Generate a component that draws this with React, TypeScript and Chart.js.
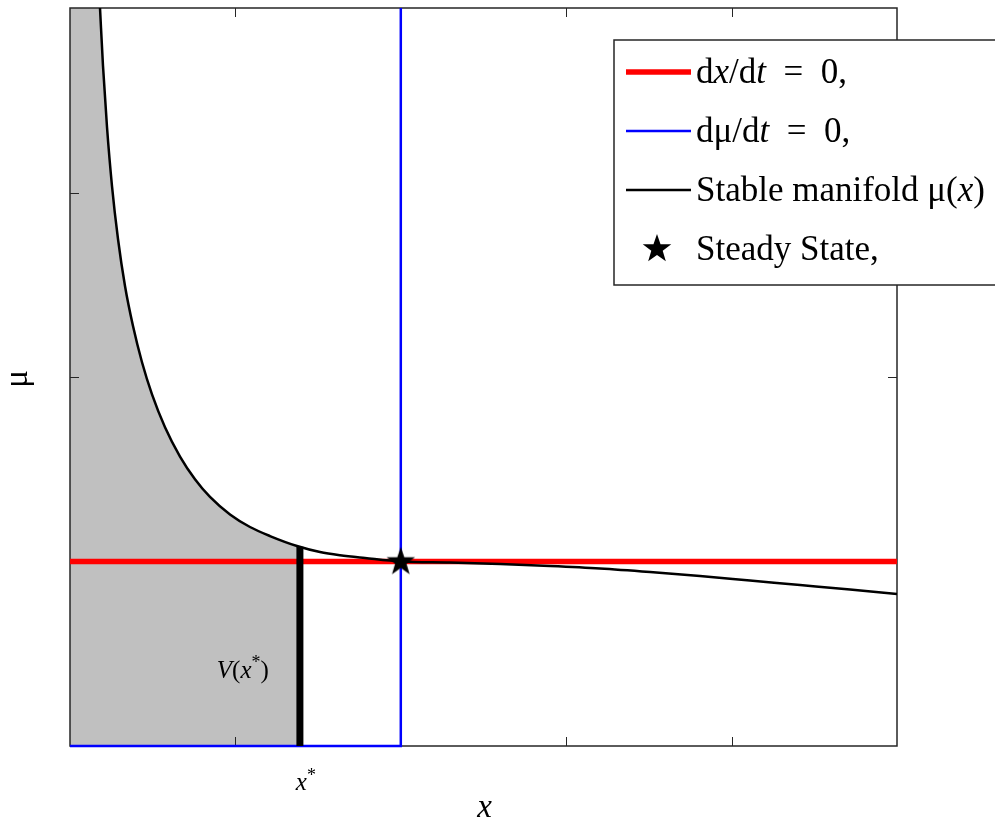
import { useEffect, useRef } from 'react';
import { Chart, registerables } from 'chart.js';

Chart.register(...registerables);

// ---- data ----
const X_MIN = 0;
const X_MAX = 5;
const MU_MIN = 0;
const MU_MAX = 4;
const xTicks = [1, 2, 3, 4];
const muTicks = [1, 2, 3];

// stable manifold mu(x)
const manifoldX = [0.1814, 0.1995, 0.2237, 0.2539, 0.2902, 0.3325, 0.3809, 0.4353, 0.4958, 0.5744, 0.6651, 0.7557, 0.8464, 0.9674, 1.0883, 1.2092, 1.3724, 1.5115, 1.6324, 1.7836, 2.0, 2.297, 2.6, 2.902, 3.204, 3.507, 3.809, 4.111, 4.414, 4.716, 5.0];
const manifoldMu = [4.0, 3.686, 3.355, 3.035, 2.748, 2.493, 2.276, 2.08, 1.906, 1.728, 1.569, 1.446, 1.35, 1.255, 1.187, 1.138, 1.084, 1.0515, 1.0341, 1.019, 1.0, 0.9946, 0.9864, 0.9756, 0.9621, 0.9431, 0.9214, 0.897, 0.8726, 0.8482, 0.8238];

// dx/dt = 0
const dxdtX = [0, 5];
const dxdtMu = [1, 1];

// dmu/dt = 0
const dmudtX = [0, 2, 2];
const dmudtMu = [0, 0, 4];

// steady state
const steadyX = [2];
const steadyMu = [1];

// x* and V(x*)
const xStar = 1.39;
const vStarMu = 1.08;
const vLabelX = 1.045;
const vLabelMu = 0.37;

type Part = { t: string; i?: boolean; sup?: boolean };
const legendLabels: Part[][] = [
  [{ t: 'd' }, { t: 'x', i: true }, { t: '/d' }, { t: 't', i: true }, { t: '\u2002=\u20020,' }],
  [{ t: 'dμ/d' }, { t: 't', i: true }, { t: '\u2002=\u20020,' }],
  [{ t: 'Stable manifold μ(' }, { t: 'x', i: true }, { t: ')' }],
  [{ t: 'Steady State,' }],
];
const xTitle: Part[] = [{ t: 'x', i: true }];
const yTitle = 'μ';
const xStarLabel: Part[] = [{ t: 'x', i: true }, { t: '*', sup: true }];
const vLabel: Part[] = [{ t: 'V', i: true }, { t: '(' }, { t: 'x', i: true }, { t: '*', sup: true }, { t: ')' }];

const FONT = '"Liberation Serif", "Times New Roman", serif';
const RED = '#ff0000';
const BLUE = '#0000ff';
const GRAY = '#c0c0c0';

const zip = (xs: number[], ys: number[]) => xs.map((x, k) => ({ x, y: ys[k] }));

function fontFor(p: Part, size: number) {
  return `${p.i ? 'italic ' : ''}${p.sup ? Math.round(size * 0.7) : size}px ${FONT}`;
}

function drawRich(ctx: CanvasRenderingContext2D, parts: Part[], x: number, y: number, size: number, align: 'left' | 'center' = 'left') {
  ctx.save();
  ctx.textAlign = 'left';
  ctx.textBaseline = 'alphabetic';
  let w = 0;
  for (const p of parts) {
    ctx.font = fontFor(p, size);
    w += ctx.measureText(p.t).width;
  }
  let cx = align === 'center' ? x - w / 2 : x;
  for (const p of parts) {
    ctx.font = fontFor(p, size);
    ctx.fillText(p.t, cx, p.sup ? y - size * 0.38 : y);
    cx += ctx.measureText(p.t).width;
  }
  ctx.restore();
}

function starPath(ctx: CanvasRenderingContext2D, cx: number, cy: number, R: number, r: number) {
  ctx.beginPath();
  for (let k = 0; k < 10; k++) {
    const ang = -Math.PI / 2 + (k * Math.PI) / 5;
    const rad = k % 2 === 0 ? R : r;
    const px = cx + rad * Math.cos(ang);
    const py = cy + rad * Math.sin(ang);
    if (k === 0) ctx.moveTo(px, py);
    else ctx.lineTo(px, py);
  }
  ctx.closePath();
}

const decorPlugin = {
  id: 'decor',
  beforeDatasetsDraw(chart: any) {
    const { ctx, chartArea: a, scales } = chart;
    const x = scales.x;
    const y = scales.y;
    ctx.save();
    ctx.strokeStyle = '#262626';
    ctx.lineWidth = 1.5;
    ctx.strokeRect(a.left, a.top, a.right - a.left, a.bottom - a.top);
    ctx.lineWidth = 1;
    ctx.beginPath();
    for (const v of xTicks) {
      const px = Math.round(x.getPixelForValue(v)) + 0.5;
      ctx.moveTo(px, a.bottom);
      ctx.lineTo(px, a.bottom - 9);
      ctx.moveTo(px, a.top);
      ctx.lineTo(px, a.top + 9);
    }
    for (const v of muTicks) {
      const py = Math.round(y.getPixelForValue(v)) + 0.5;
      ctx.moveTo(a.left, py);
      ctx.lineTo(a.left + 9, py);
      ctx.moveTo(a.right, py);
      ctx.lineTo(a.right - 9, py);
    }
    ctx.stroke();
    ctx.restore();
  },
  afterDraw(chart: any) {
    const { ctx, chartArea: a, scales } = chart;
    const x = scales.x;
    const y = scales.y;
    ctx.save();
    ctx.fillStyle = '#000';

    // V(x*) label inside plot
    drawRich(ctx, vLabel, x.getPixelForValue(vLabelX), y.getPixelForValue(vLabelMu), 25, 'center');
    // x* tick label
    drawRich(ctx, xStarLabel, x.getPixelForValue(xStar) + 6, a.bottom + 44, 25, 'center');
    // x axis title
    drawRich(ctx, xTitle, (a.left + a.right) / 2 + 1, a.bottom + 71, 33, 'center');
    // y axis title
    ctx.save();
    ctx.translate(27, (a.top + a.bottom) / 2 + 2);
    ctx.rotate(-Math.PI / 2);
    ctx.font = `33px ${FONT}`;
    ctx.textAlign = 'center';
    ctx.textBaseline = 'alphabetic';
    ctx.fillText(yTitle, 0, 0);
    ctx.restore();

    // legend box
    const L = 614, T = 40, B = 285;
    ctx.fillStyle = '#fff';
    ctx.fillRect(L, T, 1000 - L, B - T);
    ctx.strokeStyle = '#262626';
    ctx.lineWidth = 1.5;
    ctx.strokeRect(L, T, 1000 - L, B - T);

    const rowY = [72, 131, 190, 249];
    const styles = [
      { c: RED, w: 5.5 },
      { c: BLUE, w: 2.5 },
      { c: '#000', w: 2.5 },
    ];
    styles.forEach((s, k) => {
      ctx.strokeStyle = s.c;
      ctx.lineWidth = s.w;
      ctx.beginPath();
      ctx.moveTo(626, rowY[k]);
      ctx.lineTo(691, rowY[k]);
      ctx.stroke();
    });
    ctx.fillStyle = '#000';
    starPath(ctx, 657, rowY[3], 15, 6);
    ctx.fill();
    legendLabels.forEach((parts, k) => {
      drawRich(ctx, parts, 696, rowY[k] + 11, 35);
    });
    ctx.restore();
  },
};

function makeStarCanvas() {
  const c = document.createElement('canvas');
  c.width = 32;
  c.height = 32;
  const g = c.getContext('2d')!;
  g.fillStyle = '#000';
  starPath(g, 16, 16.5, 15, 6);
  g.fill();
  return c;
}

export default function App() {
  const ref = useRef<HTMLCanvasElement>(null);

  useEffect(() => {
    if (!ref.current) return;
    const fillPts = [{ x: X_MIN, y: MU_MAX }]
      .concat(zip(manifoldX, manifoldMu).filter((p) => p.x < xStar))
      .concat([{ x: xStar, y: vStarMu }]);

    const chart = new Chart(ref.current, {
      type: 'line',
      data: {
        datasets: [
          {
            label: 'Steady State',
            type: 'scatter',
            data: zip(steadyX, steadyMu),
            showLine: false,
            pointStyle: makeStarCanvas() as any,
            pointRadius: 15,
            order: 0,
            clip: false as any,
          },
          {
            label: 'V(x*)',
            data: [{ x: xStar, y: MU_MIN }, { x: xStar, y: vStarMu }],
            borderColor: '#000',
            borderWidth: 7,
            pointRadius: 0,
            fill: false,
            order: 1,
            clip: false as any,
          },
          {
            label: 'dmu/dt = 0',
            data: zip(dmudtX, dmudtMu),
            borderColor: BLUE,
            borderWidth: 2.5,
            pointRadius: 0,
            fill: false,
            order: 2,
            clip: false as any,
          },
          {
            label: 'Stable manifold',
            data: zip(manifoldX, manifoldMu),
            borderColor: '#000',
            borderWidth: 2.5,
            pointRadius: 0,
            fill: false,
            cubicInterpolationMode: 'monotone',
            order: 3,
          },
          {
            label: 'dx/dt = 0',
            data: zip(dxdtX, dxdtMu),
            borderColor: RED,
            borderWidth: 5.5,
            pointRadius: 0,
            fill: false,
            order: 4,
          },
          {
            label: 'area',
            data: fillPts,
            borderWidth: 0,
            borderColor: 'rgba(0,0,0,0)',
            backgroundColor: GRAY,
            pointRadius: 0,
            fill: 'origin',
            tension: 0,
            order: 5,
          },
        ] as any,
      },
      options: {
        responsive: false,
        animation: false,
        events: [],
        layout: { autoPadding: false, padding: { top: 8, right: 98, left: 0, bottom: 0 } },
        plugins: {
          legend: { display: false },
          tooltip: { enabled: false },
          filler: { drawTime: 'beforeDraw' } as any,
        },
        scales: {
          x: {
            type: 'linear',
            min: X_MIN,
            max: X_MAX,
            ticks: { display: false, stepSize: 1 },
            grid: { display: false },
            border: { display: false },
            afterFit: (s: any) => {
              s.height = 74;
              s.paddingLeft = 0;
              s.paddingRight = 0;
              s.paddingTop = 0;
              s.paddingBottom = 0;
            },
          },
          y: {
            type: 'linear',
            min: MU_MIN,
            max: MU_MAX,
            ticks: { display: false, stepSize: 1 },
            grid: { display: false },
            border: { display: false },
            afterFit: (s: any) => {
              s.width = 70;
              s.paddingLeft = 0;
              s.paddingRight = 0;
              s.paddingTop = 0;
              s.paddingBottom = 0;
            },
          },
        },
      },
      plugins: [decorPlugin as any],
    });
    return () => chart.destroy();
  }, []);

  return (
    <div style={{ position: 'absolute', left: 0, top: 0, width: 995, height: 820, background: '#fff' }}>
      <canvas ref={ref} width={995} height={820} style={{ display: 'block' }} />
    </div>
  );
}
